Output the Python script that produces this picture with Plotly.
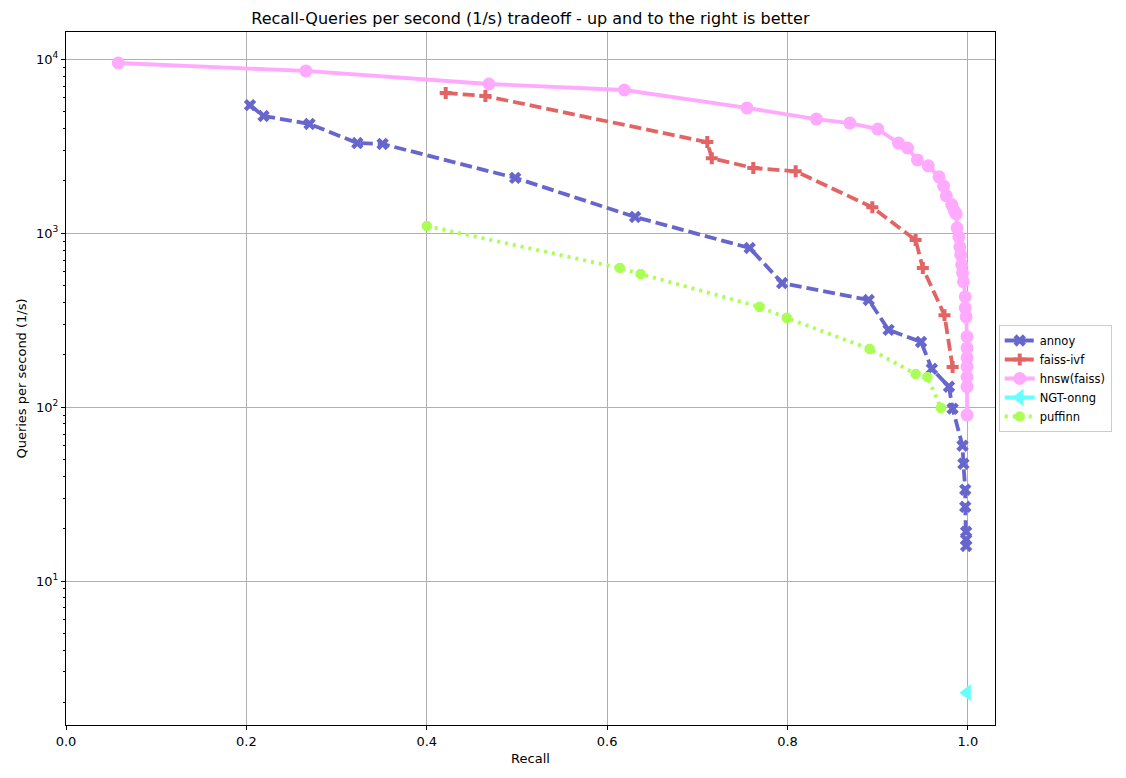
import plotly.graph_objects as go

# ---- data ----
annoy_recall = [0.204, 0.219, 0.270, 0.323, 0.351, 0.498, 0.631, 0.758, 0.794, 0.890, 0.912, 0.948,
                0.960, 0.979, 0.983, 0.994, 0.995, 0.997, 0.997, 0.998, 0.998, 0.998]
annoy_qps = [5450, 4720, 4250, 3300, 3260, 2080, 1240, 822, 517, 413, 278, 237,
             166, 131, 98, 60, 47.2, 33.5, 26.7, 19.2, 17.3, 15.9]

ivf_recall = [0.421, 0.465, 0.711, 0.716, 0.762, 0.809, 0.894, 0.942, 0.950, 0.974, 0.983]
ivf_qps = [6400, 6150, 3340, 2700, 2370, 2270, 1410, 913, 630, 338, 170]

hnsw_recall = [0.058, 0.266, 0.469, 0.619, 0.755, 0.832, 0.869, 0.900, 0.923, 0.933, 0.944, 0.956,
               0.968, 0.973, 0.976, 0.982, 0.985, 0.987, 0.988, 0.990, 0.991, 0.992, 0.993, 0.994,
               0.995, 0.997, 0.997, 0.998, 0.999, 0.999, 0.999, 0.999, 0.999, 0.999, 0.999]
hnsw_qps = [9520, 8570, 7210, 6660, 5250, 4530, 4300, 3970, 3300, 3090, 2640, 2440,
            2110, 1870, 1640, 1460, 1340, 1290, 1072, 953, 835, 752, 658, 592,
            526, 431, 372, 330, 254, 219, 192, 171, 149, 131, 90]

ngt_recall = [0.999]
ngt_qps = [2.28]

puffinn_recall = [0.400, 0.614, 0.637, 0.769, 0.799, 0.891, 0.942, 0.955, 0.970]
puffinn_qps = [1100, 631, 583, 377, 326, 216, 155, 149, 99]

x_ticks = [0.0, 0.2, 0.4, 0.6, 0.8, 1.0]
x_tick_labels = ["0.0", "0.2", "0.4", "0.6", "0.8", "1.0"]
y_ticks = [10, 100, 1000, 10000]
y_tick_labels = ["10<sup>1</sup>", "10<sup>2</sup>", "10<sup>3</sup>", "10<sup>4</sup>"]

FONT = "DejaVu Sans"

fig = go.Figure()
fig.add_trace(go.Scatter(x=annoy_recall, y=annoy_qps, name="annoy", mode="lines+markers",
                         line=dict(color="#6666CC", width=3.8, dash="12px,5px"),
                         marker=dict(symbol="x", size=11, color="#6666CC")))
fig.add_trace(go.Scatter(x=ivf_recall, y=ivf_qps, name="faiss-ivf", mode="lines+markers",
                         line=dict(color="#E36464", width=3.8, dash="12px,5px"),
                         marker=dict(symbol="cross", size=10, color="#E36464")))
fig.add_trace(go.Scatter(x=hnsw_recall, y=hnsw_qps, name="hnsw(faiss)", mode="lines+markers",
                         line=dict(color="#FFAAFF", width=3.8),
                         marker=dict(symbol="circle", size=13, color="#FFAAFF")))
fig.add_trace(go.Scatter(x=ngt_recall, y=ngt_qps, name="NGT-onng", mode="lines+markers",
                         line=dict(color="#66FFFF", width=3.8),
                         marker=dict(symbol="triangle-left", size=15, color="#66FFFF")))
fig.add_trace(go.Scatter(x=puffinn_recall, y=puffinn_qps, name="puffinn", mode="lines+markers",
                         line=dict(color="#AAFF55", width=3.8, dash="3px,5px"),
                         marker=dict(symbol="octagon", size=11, color="#AAFF55")))

minor_vals = [m * 10 ** e for e in range(0, 5) for m in range(2, 10)]

# page body has an 8px margin: shrink figure and shift margins accordingly
W, H = 1118, 770
L, T = 57.5, 24
PW, PH = 929.8, 693
fig.update_layout(
    width=W, height=H,
    margin=dict(l=L, r=W - L - PW, t=T, b=H - T - PH),
    paper_bgcolor="white", plot_bgcolor="white",
    font=dict(family=FONT, size=13, color="black"),
    title=dict(text="Recall-Queries per second (1/s) tradeoff - up and to the right is better",
               x=(L + PW / 2) / W, xanchor="center", y=1 - 10 / H, yanchor="middle",
               font=dict(size=16)),
    showlegend=True,
    legend=dict(x=1.004, y=0.5, xanchor="left", yanchor="middle",
                bordercolor="#CCCCCC", borderwidth=1, font=dict(size=11.5),
                tracegroupgap=0, itemwidth=30),
)
fig.update_xaxes(range=[0, 1.03], tickvals=x_ticks, ticktext=x_tick_labels,
                 showgrid=True, gridcolor="#B0B0B0", gridwidth=1,
                 showline=True, linecolor="black", linewidth=1, mirror=True,
                 ticks="outside", ticklen=4, tickcolor="black", zeroline=False,
                 title=dict(text="Recall", font=dict(size=13), standoff=6))
fig.update_yaxes(type="log", range=[0.172, 4.157], tickvals=y_ticks, ticktext=y_tick_labels,
                 showgrid=True, gridcolor="#B0B0B0", gridwidth=1,
                 showline=True, linecolor="black", linewidth=1, mirror=True,
                 ticks="outside", ticklen=4, tickcolor="black", zeroline=False,
                 minor=dict(tickvals=minor_vals, ticks="outside", ticklen=2, tickcolor="black",
                            showgrid=False),
                 title=dict(text="Queries per second (1/s)", font=dict(size=13), standoff=6))

fig.write_html("out.html")
